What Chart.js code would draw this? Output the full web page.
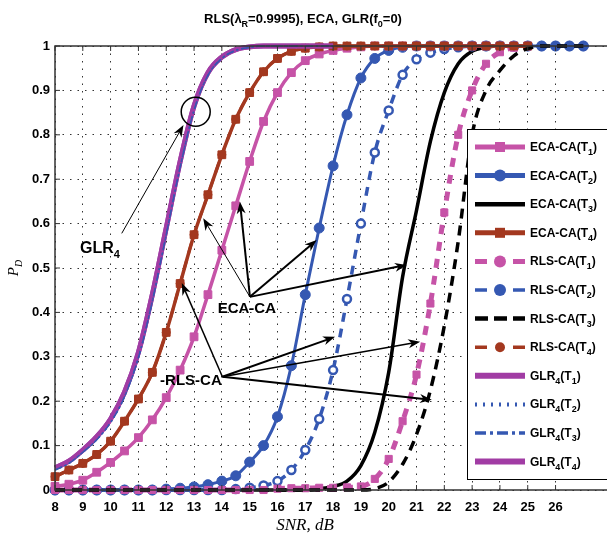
<!DOCTYPE html>
<html>
<head>
<meta charset="utf-8">
<script src="https://cdn.jsdelivr.net/npm/chart.js@4.4.0/dist/chart.umd.min.js"></script>
<style>
  html, body { margin: 0; padding: 0; background: #fff; }
</style>
</head>
<body>
<canvas id="pd" width="607" height="538"></canvas>
<script>
// SNR grid, dB (0.5 dB steps)
var snr = [8, 8.5, 9, 9.5, 10, 10.5, 11, 11.5, 12, 12.5, 13, 13.5, 14, 14.5, 15, 15.5, 16, 16.5, 17, 17.5,
           18, 18.5, 19, 19.5, 20, 20.5, 21, 21.5, 22, 22.5, 23, 23.5, 24, 24.5, 25, 25.5, 26, 26.5, 27];

// P_D
var ecaT1 = [0.008, 0.013, 0.022, 0.04, 0.062, 0.088, 0.118, 0.158, 0.208, 0.27, 0.345, 0.44, 0.54, 0.64, 0.74, 0.83, 0.895, 0.94, 0.967, 0.982,
             0.99, 0.995, 0.998, 1, 1, 1, 1, 1, 1, 1, 1, 1, 1, 1, 1, null, null, null, null];
var ecaT2 = [0, 0, 0, 0, 0, 0, 0, 0, 0.002, 0.004, 0.007, 0.012, 0.02, 0.032, 0.063, 0.1, 0.165, 0.28, 0.44, 0.59,
             0.73, 0.845, 0.928, 0.972, 0.99, 0.997, 1, 1, 1, 1, 1, 1, 1, 1, 1, 1, 1, 1, 1];
var ecaT3 = [0, 0, 0, 0, 0, 0, 0, 0, 0, 0, 0, 0, 0, 0, 0, 0, 0, 0, 0, 0.003,
             0.008, 0.02, 0.055, 0.13, 0.265, 0.48, 0.63, 0.785, 0.895, 0.96, 0.988, 0.997, 1, 1, 1, null, null, null, null];
var ecaT4 = [0.03, 0.045, 0.06, 0.08, 0.11, 0.155, 0.205, 0.265, 0.355, 0.465, 0.575, 0.665, 0.755, 0.835, 0.895, 0.942, 0.972, 0.988, 0.995, 0.998,
             1, 1, 1, 1, 1, 1, 1, 1, 1, 1, 1, 1, 1, 1, 1, null, null, null, null];
var rlsT1 = [0, 0, 0, 0, 0, 0, 0, 0, 0, 0, 0, 0, 0, 0, 0, 0, 0.003, 0.004, 0.004, 0.005,
             0.005, 0.006, 0.008, 0.025, 0.07, 0.155, 0.26, 0.42, 0.625, 0.8, 0.9, 0.96, 0.986, 0.996, 1, null, null, null, null];
var rlsT2 = [0, 0, 0, 0, 0, 0, 0, 0, 0, 0, 0, 0, 0, 0.002, 0.005, 0.01, 0.02, 0.045, 0.09, 0.16,
             0.27, 0.43, 0.6, 0.76, 0.855, 0.935, 0.97, 0.985, 0.993, 0.997, 1, 1, 1, 1, 1, 1, 1, 1, 1];
var rlsT3 = [0, 0, 0, 0, 0, 0, 0, 0, 0, 0, 0, 0, 0, 0, 0, 0, 0, 0, 0, 0,
             0, 0, 0, 0.003, 0.018, 0.058, 0.125, 0.225, 0.37, 0.56, 0.8, 0.9, 0.945, 0.978, 0.994, 1, 1, 1, 1];
var rlsT4 = [0.03, 0.045, 0.06, 0.08, 0.11, 0.155, 0.205, 0.265, 0.355, 0.465, 0.575, 0.665, 0.755, 0.835, 0.895, 0.942, 0.972, 0.988, 0.995, 0.998,
             1, 1, 1, 1, 1, 1, 1, 1, 1, 1, 1, 1, 1, 1, 1, null, null, null, null];
var glrT1 = [0.05, 0.065, 0.09, 0.12, 0.16, 0.22, 0.31, 0.44, 0.59, 0.74, 0.865, 0.94, 0.975, 0.992, 0.998, 1, 1, 1, 1, 1,
             1, null, null, null, null, null, null, null, null, null, null, null, null, null, null, null, null, null, null];
var glrT2 = [0.045, 0.06, 0.085, 0.113, 0.152, 0.21, 0.298, 0.425, 0.575, 0.727, 0.855, 0.934, 0.972, 0.99, 0.997, 1, 1, 1, 1, 1,
             1, null, null, null, null, null, null, null, null, null, null, null, null, null, null, null, null, null, null];
var glrT3 = [0.045, 0.06, 0.085, 0.113, 0.152, 0.21, 0.298, 0.425, 0.575, 0.727, 0.855, 0.934, 0.972, 0.99, 0.997, 1, 1, 1, 1, 1,
             1, null, null, null, null, null, null, null, null, null, null, null, null, null, null, null, null, null, null];
var glrT4 = [0.05, 0.065, 0.09, 0.12, 0.16, 0.22, 0.31, 0.44, 0.59, 0.74, 0.865, 0.94, 0.975, 0.992, 0.998, 1, 1, 1, 1, 1,
             1, null, null, null, null, null, null, null, null, null, null, null, null, null, null, null, null, null, null];

var xTicks = [8, 9, 10, 11, 12, 13, 14, 15, 16, 17, 18, 19, 20, 21, 22, 23, 24, 25, 26];
var yTicks = [0, 0.1, 0.2, 0.3, 0.4, 0.5, 0.6, 0.7, 0.8, 0.9, 1];

var titleText = 'RLS(λ_R=0.9995), ECA, GLR(f_0=0)';
var xTitle = 'SNR, dB';
var yTitle = 'P_D';

var colPink = '#c653a7', colBlue = '#3558b2', colRed = '#a3381f', colMag = '#a13ca4';

function pts(arr) {
  return snr.map(function(x, i) { return {x: x, y: arr[i]}; });
}

// text with _x subscripts
function splitRich(s) {
  var parts = [], buf = '';
  for (var i = 0; i < s.length; i++) {
    if (s[i] === '_' && i + 1 < s.length) {
      if (buf) parts.push([buf, false]);
      buf = '';
      parts.push([s[i + 1], true]);
      i++;
    } else buf += s[i];
  }
  if (buf) parts.push([buf, false]);
  return parts;
}
function drawRich(ctx, s, x, y, font, subFont, subDy, align) {
  var parts = splitRich(s), w = 0;
  parts.forEach(function(p) { ctx.font = p[1] ? subFont : font; w += ctx.measureText(p[0]).width; });
  var cx = align === 'center' ? x - w / 2 : x;
  ctx.textAlign = 'left';
  ctx.textBaseline = 'alphabetic';
  parts.forEach(function(p) {
    ctx.font = p[1] ? subFont : font;
    ctx.fillText(p[0], cx, y + (p[1] ? subDy : 0));
    cx += ctx.measureText(p[0]).width;
  });
}

function arrow(ctx, x0, y0, x1, y1, lw) {
  var a = Math.atan2(y1 - y0, x1 - x0), L = 12, W = 4.5;
  ctx.save();
  ctx.strokeStyle = '#000';
  ctx.fillStyle = '#000';
  ctx.lineWidth = lw;
  ctx.setLineDash([]);
  ctx.beginPath();
  ctx.moveTo(x0, y0);
  ctx.lineTo(x1 - Math.cos(a) * 6, y1 - Math.sin(a) * 6);
  ctx.stroke();
  ctx.translate(x1, y1);
  ctx.rotate(a);
  ctx.beginPath();
  ctx.moveTo(0, 0);
  ctx.lineTo(-L, -W);
  ctx.lineTo(-L * 0.7, 0);
  ctx.lineTo(-L, W);
  ctx.closePath();
  ctx.fill();
  ctx.restore();
}

// annotation anchors, in data units
var glrNote = {text: 'GLR_4', x: 8.9, y: 0.534, from: [10.40, 0.578], to: [[12.62, 0.822, 1]]};
var ecaNote = {text: 'ECA-CA', x: 13.85, y: 0.399, from: [15.01, 0.435],
  to: [[13.33, 0.612, 1], [14.65, 0.649, 2], [17.41, 0.563, 2], [20.65, 0.507, 2]]};
var rlsNote = {text: '-RLS-CA', x: 11.78, y: 0.236, from: [14.02, 0.255],
  to: [[12.56, 0.466, 1.5], [18.07, 0.345, 2], [21.13, 0.334, 1.5], [21.55, 0.203, 2]]};
var ringAt = [13.06, 0.852];

var legendRows = [
  {text: 'ECA-CA(T_1)', color: colPink, width: 5, dash: [], marker: 'rect', r: 5},
  {text: 'ECA-CA(T_2)', color: colBlue, width: 5, dash: [], marker: 'circle', r: 6},
  {text: 'ECA-CA(T_3)', color: '#000', width: 4.5, dash: []},
  {text: 'ECA-CA(T_4)', color: colRed, width: 5, dash: [], marker: 'rect', r: 5},
  {text: 'RLS-CA(T_1)', color: colPink, width: 5, dash: [12, 26], marker: 'circle', r: 6},
  {text: 'RLS-CA(T_2)', color: colBlue, width: 3.5, dash: [12, 26], marker: 'circle', r: 6},
  {text: 'RLS-CA(T_3)', color: '#000', width: 4.5, dash: [13, 6]},
  {text: 'RLS-CA(T_4)', color: colRed, width: 3.5, dash: [12, 26], marker: 'circle', r: 5},
  {text: 'GLR_4(T_1)', color: colMag, width: 6, dash: []},
  {text: 'GLR_4(T_2)', color: colBlue, width: 4, dash: [2, 6]},
  {text: 'GLR_4(T_3)', color: colBlue, width: 3.5, dash: [11, 4, 3, 4]},
  {text: 'GLR_4(T_4)', color: colMag, width: 6, dash: []}
];

var decor = {
  id: 'decor',
  afterDraw: function(chart) {
    var ctx = chart.ctx, a = chart.chartArea, sx = chart.scales.x, sy = chart.scales.y;
    var px = function(v) { return sx.getPixelForValue(v); };
    var py = function(v) { return sy.getPixelForValue(v); };
    ctx.save();

    // axes box + inner ticks
    ctx.strokeStyle = '#333';
    ctx.lineWidth = 1.5;
    ctx.beginPath();
    ctx.moveTo(a.right, a.top); ctx.lineTo(a.left, a.top);
    ctx.lineTo(a.left, a.bottom); ctx.lineTo(a.right, a.bottom);
    ctx.stroke();
    ctx.lineWidth = 1;
    ctx.beginPath();
    xTicks.forEach(function(t) {
      var x = px(t);
      ctx.moveTo(x, a.bottom); ctx.lineTo(x, a.bottom - 5);
      ctx.moveTo(x, a.top); ctx.lineTo(x, a.top + 5);
    });
    yTicks.forEach(function(t) {
      var y = py(t);
      ctx.moveTo(a.left, y); ctx.lineTo(a.left + 5, y);
    });
    ctx.stroke();

    // titles
    ctx.fillStyle = '#000';
    drawRich(ctx, titleText, 303, 23, 'bold 13px "Liberation Sans"', 'bold 9px "Liberation Sans"', 4, 'center');
    drawRich(ctx, xTitle, 305, 530, 'italic 17px "Liberation Serif"', 'italic 11px "Liberation Serif"', 4, 'center');
    ctx.save();
    ctx.translate(18, (a.top + a.bottom) / 2);
    ctx.rotate(-Math.PI / 2);
    drawRich(ctx, yTitle, 0, 0, 'italic 15px "Liberation Serif"', 'italic 10px "Liberation Serif"', 4, 'center');
    ctx.restore();

    // annotations
    [glrNote, ecaNote, rlsNote].forEach(function(n) {
      n.to.forEach(function(t) { arrow(ctx, px(n.from[0]), py(n.from[1]), px(t[0]), py(t[1]), t[2]); });
    });
    ctx.fillStyle = '#000';
    drawRich(ctx, glrNote.text, px(glrNote.x), py(glrNote.y), 'bold 16px "Liberation Sans"', 'bold 11px "Liberation Sans"', 5, 'left');
    drawRich(ctx, ecaNote.text, px(ecaNote.x), py(ecaNote.y), 'bold 15px "Liberation Sans"', 'bold 10px "Liberation Sans"', 4, 'left');
    drawRich(ctx, rlsNote.text, px(rlsNote.x), py(rlsNote.y), 'bold 15px "Liberation Sans"', 'bold 10px "Liberation Sans"', 4, 'left');
    ctx.strokeStyle = '#000';
    ctx.lineWidth = 1.5;
    ctx.beginPath();
    ctx.arc(px(ringAt[0]), py(ringAt[1]), 14.5, 0, Math.PI * 2);
    ctx.stroke();

    // legend box inside the axes
    var bx = 467, by = 129, bb = 479;
    ctx.fillStyle = '#fff';
    ctx.fillRect(bx, by, a.right - bx + 2, bb - by);
    ctx.strokeStyle = '#000';
    ctx.lineWidth = 1;
    ctx.strokeRect(bx + 0.5, by + 0.5, a.right - bx + 5, bb - by);
    legendRows.forEach(function(r, i) {
      var y = 147 + i * 28.6, x0 = 475, x1 = 525;
      ctx.save();
      ctx.strokeStyle = r.color;
      ctx.fillStyle = r.color;
      ctx.lineWidth = r.width;
      ctx.setLineDash(r.dash);
      ctx.beginPath();
      ctx.moveTo(x0, y); ctx.lineTo(x1, y);
      ctx.stroke();
      ctx.setLineDash([]);
      if (r.marker === 'rect') ctx.fillRect(500 - r.r, y - r.r, r.r * 2, r.r * 2);
      if (r.marker === 'circle') { ctx.beginPath(); ctx.arc(500, y, r.r, 0, Math.PI * 2); ctx.fill(); }
      ctx.restore();
      ctx.fillStyle = '#000';
      drawRich(ctx, r.text, 530, y + 4, 'bold 12px "Liberation Sans"', 'bold 9px "Liberation Sans"', 4, 'left');
    });
    ctx.restore();
  }
};

function line(label, arr, color, opts) {
  var d = {
    label: label, data: pts(arr), borderColor: color, backgroundColor: color,
    borderWidth: 3, pointRadius: 0, pointBorderWidth: 1, pointBorderColor: color,
    pointBackgroundColor: color, cubicInterpolationMode: 'monotone', spanGaps: false,
    clip: {left: 8, top: 8, right: 0, bottom: 8}
  };
  for (var k in opts) d[k] = opts[k];
  return d;
}

new Chart(document.getElementById('pd'), {
  type: 'line',
  data: {
    datasets: [
      line('RLS-CA(T3)', rlsT3, '#000', {borderWidth: 3.5, borderDash: [10, 7], order: 1}),
      line('GLR4(T2)', glrT2, colBlue, {borderWidth: 1.5, borderDash: [2, 3], order: 2}),
      line('GLR4(T3)', glrT3, colBlue, {borderWidth: 1.5, borderDash: [8, 3, 2, 3], order: 2}),
      line('GLR4(T1)', glrT1, colMag, {borderWidth: 5, order: 3}),
      line('GLR4(T4)', glrT4, colMag, {borderWidth: 5, order: 3}),
      line('ECA-CA(T4)', ecaT4, colRed, {borderWidth: 3.5, pointStyle: 'rect', pointRadius: 5.5, order: 4}),
      line('RLS-CA(T4)', rlsT4, colRed, {borderWidth: 3, borderDash: [10, 7], pointStyle: 'circle', pointRadius: 4, order: 5}),
      line('ECA-CA(T1)', ecaT1, colPink, {borderWidth: 3.5, pointStyle: 'rect', pointRadius: 5.5, order: 6}),
      line('RLS-CA(T1)', rlsT1, colPink, {borderWidth: 5, borderDash: [9, 8], pointStyle: 'rect', pointRadius: 5, order: 7}),
      line('ECA-CA(T2)', ecaT2, colBlue, {borderWidth: 3, pointStyle: 'circle', pointRadius: 5, order: 8}),
      line('RLS-CA(T2)', rlsT2, colBlue, {borderWidth: 3.5, borderDash: [9, 7], pointStyle: 'circle', pointRadius: 4,
        pointBorderWidth: 2.5, pointBackgroundColor: '#fff', order: 9}),
      line('ECA-CA(T3)', ecaT3, '#000', {borderWidth: 3.5, order: 10})
    ]
  },
  options: {
    responsive: false,
    devicePixelRatio: 1,
    animation: false,
    events: [],
    layout: {autoPadding: false, padding: {top: 46, right: 0, left: 0, bottom: 0}},
    plugins: {legend: {display: false}, title: {display: false}, tooltip: {enabled: false}},
    scales: {
      x: {
        type: 'linear', min: 8, max: 27.85,
        afterFit: function(s) { s.height = 48; s.paddingLeft = 0; s.paddingRight = 0; },
        afterBuildTicks: function(s) { s.ticks = xTicks.map(function(v) { return {value: v}; }); },
        ticks: {
          autoSkip: false, maxRotation: 0, padding: 10, color: '#000',
          font: {family: 'Liberation Sans', size: 13, weight: 'bold'},
          callback: function(v) { return String(v); }
        },
        grid: {color: '#333', lineWidth: 1, drawTicks: false},
        border: {display: false, dash: [1.5, 6]}
      },
      y: {
        type: 'linear', min: 0, max: 1,
        afterFit: function(s) { s.width = 55; },
        afterBuildTicks: function(s) { s.ticks = yTicks.map(function(v) { return {value: v}; }); },
        ticks: {
          autoSkip: false, padding: 5, color: '#000',
          font: {family: 'Liberation Sans', size: 13, weight: 'bold'},
          callback: function(v) { return (v === 0 || v === 1) ? String(v) : v.toFixed(1); }
        },
        grid: {color: '#333', lineWidth: 1, drawTicks: false},
        border: {display: false, dash: [1.5, 6]}
      }
    }
  },
  plugins: [decor]
});
</script>
</body>
</html>
